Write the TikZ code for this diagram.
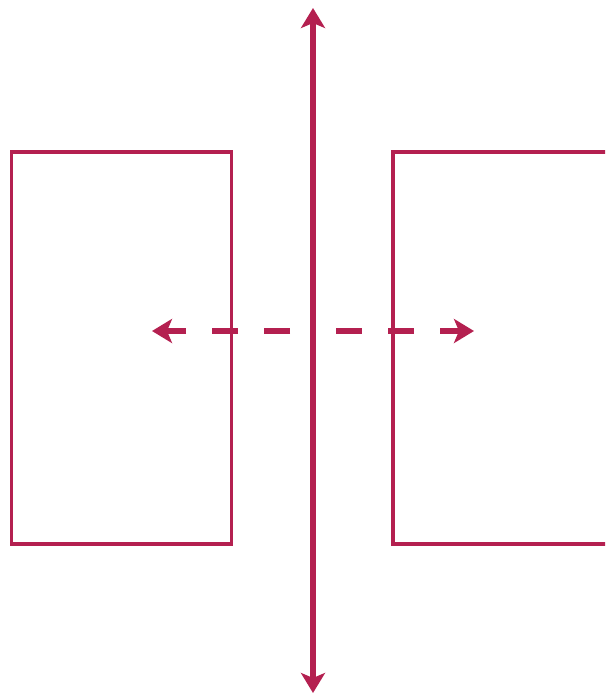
\documentclass[tikz,border=0pt]{standalone}
\usetikzlibrary{calc, positioning}
\usetikzlibrary{arrows.meta}
\definecolor{crimson}{RGB}{180,32,80}

\begin{document}
\begin{tikzpicture}[x=1pt, y=-1pt,
  box/.style={draw=crimson, line width=3.5pt, inner sep=0pt, outer sep=0pt, anchor=north west},
  axisarrow/.style={draw=crimson, line width=6pt, {Stealth[length=20pt, width=24pt, inset=5pt]}-{Stealth[length=20pt, width=24pt, inset=5pt]}},
  movearrow/.style={draw=crimson, line width=6pt, -{Stealth[length=20pt, width=24pt, inset=5pt]},
    dash pattern=on 26pt off 26pt, dash phase=29pt}]
\useasboundingbox (0,0) rectangle (605,696);
\clip (0,0) rectangle (605,696);

\coordinate (top) at (313,8);
\coordinate (bottom) at (313,693);
\coordinate (C) at (313,331);
\coordinate (L) at (152,331);
\coordinate (R) at (474,331);

\node[box, minimum width=220pt, minimum height=392pt] (boxL) at (11.5,152) {};
\node[box, minimum width=240pt, minimum height=392pt] (boxR) at (393,152) {};

\draw[movearrow] (C) -- (L);
\draw[movearrow] (C) -- (R);
\draw[axisarrow] (top) -- (bottom);
\end{tikzpicture}
\end{document}
